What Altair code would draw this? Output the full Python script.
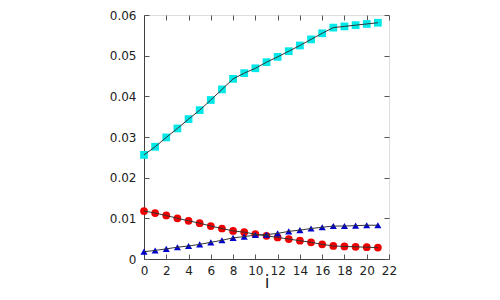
import altair as alt
import pandas as pd

i_vals = list(range(22))
cyan_vals = [0.0256, 0.0276, 0.0299, 0.0321, 0.0344, 0.0366, 0.0391, 0.0417, 0.0443, 0.0457,
             0.0469, 0.0484, 0.0497, 0.0511, 0.0525, 0.0540, 0.0555, 0.0569, 0.0572, 0.0575,
             0.0578, 0.0581]
red_vals = [0.0118, 0.0113, 0.0107, 0.0100, 0.0094, 0.0088, 0.0081, 0.0075, 0.0069, 0.0066,
            0.0061, 0.0057, 0.0053, 0.0049, 0.0045, 0.0041, 0.0036, 0.0032, 0.0031, 0.0030,
            0.0029, 0.0028]
blue_vals = [0.0018, 0.0021, 0.0025, 0.0029, 0.0032, 0.0036, 0.0041, 0.0046, 0.0052, 0.0055,
             0.0059, 0.0060, 0.0063, 0.0068, 0.0071, 0.0075, 0.0078, 0.0081, 0.0081, 0.0082,
             0.0083, 0.0083]
x_ticks = list(range(0, 23, 2))
y_ticks = [0, 0.01, 0.02, 0.03, 0.04, 0.05, 0.06]

rows = []
for name, vals in [("cyan", cyan_vals), ("red", red_vals), ("blue", blue_vals)]:
    for i, v in zip(i_vals, vals):
        rows.append({"i": i, "v": v, "s": name})
df = pd.DataFrame(rows)

xs = alt.Scale(domain=[0, 22], nice=False, zero=False)
ys = alt.Scale(domain=[0, 0.06], nice=False)
FONT = "DejaVu Sans"
TICKC = "#555555"

base = alt.Chart(df)

lines = base.mark_line(color="#333333", strokeWidth=1).encode(
    x=alt.X("i:Q", scale=xs, axis=None),
    y=alt.Y("v:Q", scale=ys, axis=None),
    detail="s:N",
)

ax_bottom_labels = alt.Axis(orient="bottom", values=x_ticks, ticks=False, domain=True,
                            domainColor="#404040", labelFont=FONT, labelFontSize=12,
                            labelColor="#222222", labelPadding=6, grid=False,
                            labelOverlap=False, labelFlush=False,
                            title="i", titleFont=FONT, titleFontSize=17,
                            titleFontWeight="normal", titleColor="#222222",
                            titleBaseline="alphabetic", titleY=28)
ax_left_labels = alt.Axis(orient="left", values=y_ticks, ticks=False, domain=True,
                          domainColor="#404040", labelFont=FONT, labelFontSize=12,
                          labelColor="#222222", labelPadding=8, grid=False, title="",
                          labelOverlap=False, labelFlush=False,
                          labelExpr="datum.value == 0 ? '0' : format(datum.value, '.2f')")

cyan_pts = base.transform_filter(alt.datum.s == "cyan").mark_point(
    shape="square", filled=True, color="#00e8e8", size=60, opacity=1
).encode(
    x=alt.X("i:Q", scale=xs, axis=ax_bottom_labels),
    y=alt.Y("v:Q", scale=ys, axis=ax_left_labels),
)

ax_bottom_ticks = alt.Axis(orient="bottom", values=x_ticks, offset=-5, tickSize=5,
                           tickColor=TICKC, labels=False, domain=False, grid=False, title="")
ax_left_ticks = alt.Axis(orient="left", values=y_ticks, offset=-5, tickSize=5,
                         tickColor=TICKC, labels=False, domain=False, grid=False, title="")

red_pts = base.transform_filter(alt.datum.s == "red").mark_point(
    shape="circle", filled=True, color="#ee0000", size=60, opacity=1
).encode(
    x=alt.X("i:Q", scale=xs, axis=ax_bottom_ticks),
    y=alt.Y("v:Q", scale=ys, axis=ax_left_ticks),
)

ax_top_ticks = alt.Axis(orient="top", values=x_ticks, offset=-5, tickSize=5,
                        tickColor=TICKC, labels=False, domain=False, grid=False, title="")
ax_right_ticks = alt.Axis(orient="right", values=y_ticks, offset=-5, tickSize=5,
                          tickColor=TICKC, labels=False, domain=False, grid=False, title="")

blue_pts = base.transform_filter(alt.datum.s == "blue").mark_point(
    shape="triangle-up", filled=True, color="#0000cc", size=50, opacity=1
).encode(
    x=alt.X("i:Q", scale=xs, axis=ax_top_ticks),
    y=alt.Y("v:Q", scale=ys, axis=ax_right_ticks),
)

chart = alt.layer(cyan_pts, red_pts, blue_pts, lines).resolve_axis(
    x="independent", y="independent"
).properties(
    width=245, height=244,
    autosize=alt.AutoSizeParams(type="none"),
    padding={"left": 136, "top": 7, "right": 100, "bottom": 33},
).configure_view(stroke="#707070", strokeWidth=1).configure(background="white")

chart.save("out.html", embed_options={"renderer": "svg", "actions": False})
